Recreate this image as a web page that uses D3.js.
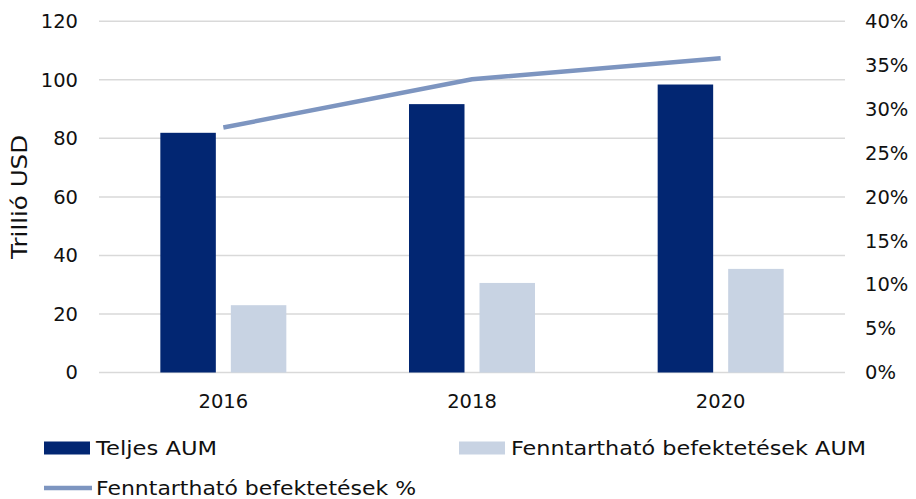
<!DOCTYPE html>
<html><head><meta charset="utf-8">
<script src="https://cdn.jsdelivr.net/npm/d3@7/dist/d3.min.js"></script>
<style>body{margin:0;background:#fff}svg{display:block}text{font-family:"DejaVu Sans",sans-serif;fill:#111}</style>
</head><body><svg id="c" width="916" height="499"></svg>
<script>
const categories = ["2016","2018","2020"];
const totalAUM = [81.9, 91.7, 98.4];
const sustainableAUM = [23.0, 30.6, 35.4];
const sustainablePct = [27.9, 33.4, 35.8];
const leftTicks = [0,20,40,60,80,100,120];
const rightTicks = [0,5,10,15,20,25,30,35,40];
const seriesNames = ["Teljes AUM","Fenntartható befektetések AUM","Fenntartható befektetések %"];
const colors = ["#022672","#c8d3e3","#7d95c0"];

const svg = d3.select("#c");
const L=99, R=845, T=21.3, B=372.5;
const x0 = d3.scaleBand().domain(categories).range([L,R]).paddingInner(0).paddingOuter(0);
const x1 = d3.scaleBand().domain([0,1]).range([0,x0.bandwidth()]).paddingInner(0.2128).paddingOuter(0.87);
const y = d3.scaleLinear().domain([0,120]).range([B,T]);
const y2 = d3.scaleLinear().domain([0,40]).range([B,T]);
const fs = 19.5;

// gridlines
svg.append("g").selectAll("line").data(leftTicks).join("line")
  .attr("x1",L).attr("x2",R).attr("y1",d=>y(d)).attr("y2",d=>y(d))
  .attr("stroke","#d9d9d9").attr("stroke-width",1.5);

// left axis
const ga = svg.append("g").attr("transform",`translate(${L},0)`)
  .call(d3.axisLeft(y).tickValues(leftTicks).tickSize(0).tickPadding(21));
ga.select(".domain").remove();
ga.selectAll("text").style("font-size",fs+"px").attr("fill","#111");

// right axis
const gr = svg.append("g").attr("transform",`translate(${R},0)`)
  .call(d3.axisRight(y2).tickValues(rightTicks).tickSize(0).tickPadding(20).tickFormat(d=>d+"%"));
gr.select(".domain").remove();
gr.selectAll("text").style("font-size",fs+"px").attr("fill","#111");

// x axis labels
const gx = svg.append("g").attr("transform",`translate(0,${B})`)
  .call(d3.axisBottom(x0).tickSize(0).tickPadding(22));
gx.select(".domain").remove();
gx.selectAll("text").style("font-size",fs+"px").attr("fill","#111");

// y title
svg.append("text").attr("transform",`translate(27,${(T+B)/2}) rotate(-90)`)
  .attr("text-anchor","middle").style("font-size","21px")
  .attr("textLength",124).attr("lengthAdjust","spacingAndGlyphs").text("Trillió USD");

// bars
const vals=[totalAUM,sustainableAUM];
vals.forEach((arr,si)=>{
  svg.append("g").selectAll("rect").data(categories).join("rect")
    .attr("x",(c)=>x0(c)+x1(si)).attr("width",x1.bandwidth())
    .attr("y",(c,i)=>y(arr[i])).attr("height",(c,i)=>B-y(arr[i]))
    .attr("fill",colors[si]);
});

// line
const line = d3.line().x((d,i)=>x0(categories[i])+x0.bandwidth()/2).y(d=>y2(d));
svg.append("path").datum(sustainablePct).attr("d",line)
  .attr("fill","none").attr("stroke",colors[2]).attr("stroke-width",4.5);

// legend
const lg = svg.append("g");
const items = [
  {x:44,y:448,type:"rect",i:0,w:121},
  {x:459,y:448,type:"rect",i:1,w:355},
  {x:44,y:488,type:"line",i:2,w:320}
];
items.forEach(it=>{
  if(it.type==="rect"){
    lg.append("rect").attr("x",it.x).attr("y",it.y-6.5).attr("width",46).attr("height",13).attr("fill",colors[it.i]);
  } else {
    lg.append("line").attr("x1",it.x).attr("x2",it.x+48).attr("y1",it.y).attr("y2",it.y)
      .attr("stroke",colors[it.i]).attr("stroke-width",4.5);
  }
  lg.append("text").attr("x",it.x+52).attr("y",it.y).attr("dy","0.35em")
    .style("font-size","20px").attr("textLength",it.w).attr("lengthAdjust","spacingAndGlyphs")
    .text(seriesNames[it.i]);
});
</script></body></html>
